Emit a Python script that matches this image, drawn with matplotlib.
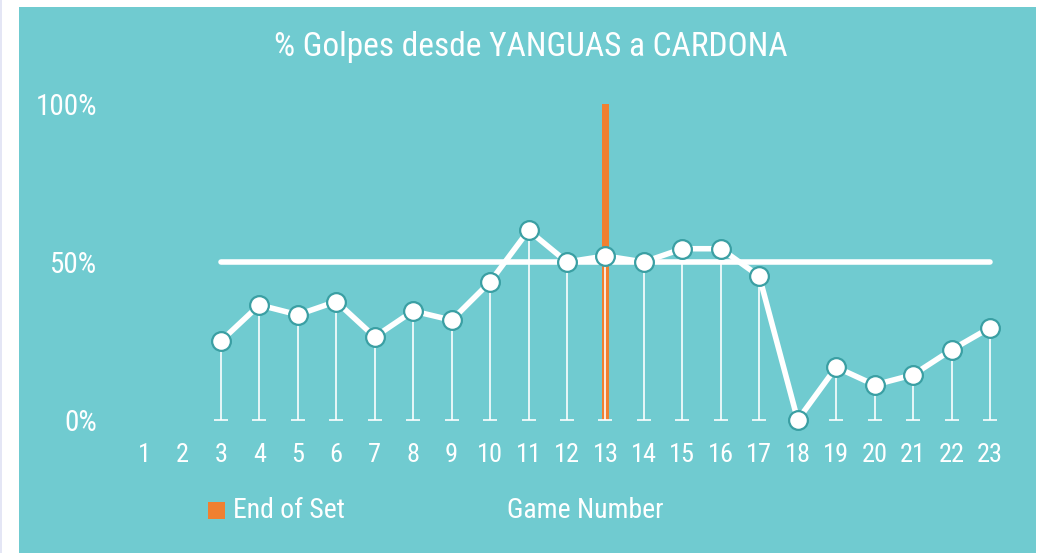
import matplotlib
matplotlib.use("Agg")
import matplotlib.pyplot as plt
from matplotlib.patches import Rectangle
from matplotlib import font_manager

games = list(range(1, 24))
plot_games = list(range(3, 24))
pct = [25.0, 36.4, 33.3, 37.5, 26.3, 34.5, 31.6, 43.7, 60.0, 50.0, 51.9,
       50.0, 54.2, 54.2, 45.5, 0.0, 16.7, 11.1, 14.3, 22.2, 29.2]
ref_level = 50
ref_start, ref_end = 3, 23
end_of_set_game = 13
end_of_set_height = 100
yticks = [0, 50, 100]
ytick_labels = ["0%", "50%", "100%"]
title = "% Golpes desde YANGUAS a CARDONA"

names = {f.name for f in font_manager.fontManager.ttflist}
fam = [f for f in ["Liberation Sans Narrow", "Roboto Condensed", "Roboto", "DejaVu Sans"] if f in names]
plt.rcParams["font.family"] = fam

TEAL = "#70CBD0"
EDGE = "#3A9FA3"
ORANGE = "#F08030"

W, H = 1045, 553
fig = plt.figure(figsize=(W / 100, H / 100), dpi=100, facecolor="white")
fig.patches.append(Rectangle((0, 0), 2 / W, 1, transform=fig.transFigure,
                             facecolor="#E4E6F5", edgecolor="none", zorder=0))
fig.patches.append(Rectangle((19 / W, 0), (1036 - 19) / W, (H - 7) / H,
                             transform=fig.transFigure, facecolor=TEAL,
                             edgecolor="none", zorder=0))

# axes: x 0.5..23.5 ; y -5..105
left_px, right_px = 124.8, 1009.2
top_px, bot_px = 88.2, 435.8
ax = fig.add_axes([left_px / W, (H - bot_px) / H, (right_px - left_px) / W, (bot_px - top_px) / H])
ax.set_zorder(3)
ax.set_facecolor("none")
ax.set_xlim(0.5, 23.5)
ax.set_ylim(-5, 105)
for s in ax.spines.values():
    s.set_visible(False)

ax.bar([end_of_set_game], [end_of_set_height], width=0.18, color=ORANGE, zorder=1)
ax.vlines(plot_games, 0, pct, color="white", lw=1.3, alpha=0.9, zorder=2)
ax.plot(plot_games, [0] * len(plot_games), ls="none", marker="_", ms=10, mew=1.3,
        color="white", alpha=0.9, zorder=2)
ax.plot([ref_start, ref_end], [ref_level, ref_level], color="white", lw=4,
        solid_capstyle="round", zorder=3)
ax.plot(plot_games, pct, color="white", lw=4, zorder=4,
        marker="o", ms=13.5, mfc="white", mec=EDGE, mew=1.6)

ax.set_xticks(games)
ax.set_xticklabels([str(g) for g in games])
ax.set_yticks(yticks)
ax.set_yticklabels(ytick_labels)
ax.tick_params(axis="x", length=0, pad=5, labelsize=19, labelcolor="white")
ax.tick_params(axis="y", length=0, pad=20, labelsize=21, labelcolor="white")

fig.text(531 / W, 1 - 47 / H, title, ha="center", va="center", color="white", fontsize=24,
         zorder=5)
fig.patches.append(Rectangle((208 / W, 1 - 519 / H), 17 / W, 17 / H, transform=fig.transFigure,
                             facecolor=ORANGE, edgecolor="none", zorder=5))
fig.text(233 / W, 1 - 510 / H, "End of Set", ha="left", va="center", color="white", fontsize=20,
         zorder=5)
fig.text(585 / W, 1 - 510 / H, "Game Number", ha="center", va="center", color="white", fontsize=20,
         zorder=5)

fig.savefig("out.png", dpi=100, facecolor="white")
